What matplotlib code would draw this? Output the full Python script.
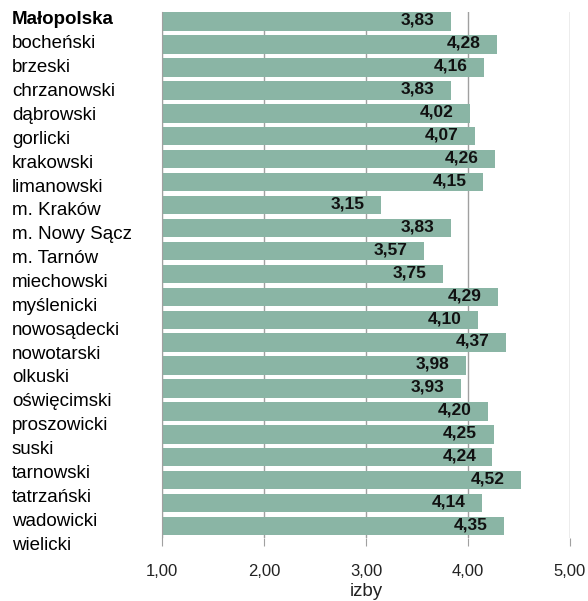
import matplotlib
matplotlib.use("Agg")
import matplotlib.pyplot as plt

plt.rcParams['font.family'] = ['Liberation Sans', 'DejaVu Sans']

categories = ["Małopolska", "bocheński", "brzeski", "chrzanowski", "dąbrowski", "gorlicki",
              "krakowski", "limanowski", "m. Kraków", "m. Nowy Sącz", "m. Tarnów", "miechowski",
              "myślenicki", "nowosądecki", "nowotarski", "olkuski", "oświęcimski", "proszowicki",
              "suski", "tarnowski", "tatrzański", "wadowicki", "wielicki"]
values = [3.83, 4.28, 4.16, 3.83, 4.02, 4.07, 4.26, 4.15, 3.15, 3.83, 3.57, 3.75,
          4.29, 4.10, 4.37, 3.98, 3.93, 4.20, 4.25, 4.24, 4.52, 4.14, 4.35]
xticks = [1, 2, 3, 4, 5]
xtick_labels = ["1,00", "2,00", "3,00", "4,00", "5,00"]
xlabel = "izby"

W, H = 588, 601
fig = plt.figure(figsize=(W / 100, H / 100), dpi=100)
ax = fig.add_axes([162 / W, 1 - 538 / H, (570 - 162) / W, (538 - 12) / H])

ypos = list(range(len(categories)))
base = 1.0
ax.barh(ypos, [v - base for v in values], left=base, height=0.8,
        color="#8ab5a5", zorder=2)

for y, v in zip(ypos, values):
    ax.text(v - 0.16, y - 0.05, f"{v:.2f}".replace(".", ","), ha="right", va="center",
            fontsize=12.5, fontweight="bold", color="#111111", zorder=3)

ax.set_xlim(1, 5)
ax.set_ylim(22.52, -0.42)
ax.set_xticks(xticks)
ax.set_xticklabels(xtick_labels, fontsize=12, color="#222222")
ax.set_yticks([])
ax.grid(axis="x", color="#a0a0a0", linewidth=1, zorder=0)
for s in ["top", "right", "bottom"]:
    ax.spines[s].set_visible(False)
ax.spines["left"].set_color("#a0a0a0")
ax.tick_params(axis="x", length=6, color="#a0a0a0", pad=13)
ax.set_xlabel(xlabel, fontsize=13.5, color="#222222", labelpad=2.5)

# category labels on the left
n = len(categories)
y_first, y_last = 20, 545
for i, c in enumerate(categories):
    yy = y_first + (y_last - y_first) * i / (n - 1)
    fig.text(12 / W, 1 - yy / H, c, ha="left", va="center", fontsize=13.5,
             fontweight="bold" if i == 0 else "normal", color="#000000")

fig.savefig("out.png", dpi=100)
